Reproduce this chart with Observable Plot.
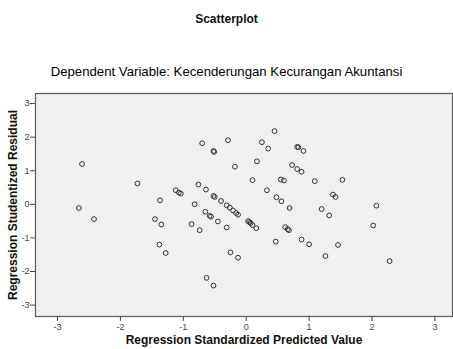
<!DOCTYPE html>
<html>
<head>
<meta charset="utf-8">
<script src="https://cdn.jsdelivr.net/npm/d3@7"></script>
<script src="https://cdn.jsdelivr.net/npm/@observablehq/plot@0.6"></script>
<style>
  body { margin: 0; background: #fff; font-family: Arial, "Liberation Sans", sans-serif; }
  #wrap { position: relative; width: 453px; height: 349px; }
  #title { position: absolute; top: 12px; left: 0; width: 453px; text-align: center; font-weight: bold; font-size: 12px; color: #111; }
  #subtitle { position: absolute; top: 64px; left: 0; width: 453px; text-align: center; font-size: 13.2px; color: #000; }
  #chart { position: absolute; top: 85px; left: 0; }
  #chart svg { font-family: Arial, "Liberation Sans", sans-serif; overflow: visible; }
</style>
</head>
<body>
<div id="wrap">
  <div id="title">Scatterplot</div>
  <div id="subtitle">Dependent Variable: Kecenderungan Kecurangan Akuntansi</div>
  <div id="chart"></div>
</div>
<script>
const titleText = "Scatterplot";
const subtitleText = "Dependent Variable: Kecenderungan Kecurangan Akuntansi";
const xLabel = "Regression Standardized Predicted Value";
const yLabel = "Regression Studentized Residual";
const xTicks = [-3, -2, -1, 0, 1, 2, 3];
const yTicks = [-3, -2, -1, 0, 1, 2, 3];

// Standardized predicted values
const predicted = [
  -2.61, -1.73, -2.66, -2.42,
  -0.70, -0.29, -0.52, -0.51, -0.18, -1.12, -1.07, -1.04, -0.76, -0.64,
  -0.52, -0.50, -0.40, -0.31, -0.26, -0.21, -0.16, -0.13, -1.37, -0.82,
  -0.65, -0.58, -0.56, -0.45, -0.31, -1.45, -1.35, -0.87, -0.74, -1.38,
  -1.28, -0.25, -0.13, -0.63, -0.52,
  0.45, 0.25, 0.35, 0.81, 0.83, 0.91, 0.17, 0.73, 0.81, 0.88,
  0.10, 0.55, 0.60, 1.09, 1.53, 0.33, 0.48, 0.56, 0.69, 1.38,
  1.42, 1.20, 1.32, 0.03, 0.05, 0.07, 0.10, 0.16, 0.62, 0.66,
  0.68, 0.47, 0.88, 1.00, 1.46, 1.26,
  2.07, 2.02, 2.28
];
// Studentized residuals
const residual = [
  1.20, 0.62, -0.11, -0.44,
  1.82, 1.91, 1.59, 1.56, 1.12, 0.42, 0.35, 0.32, 0.59, 0.44,
  0.25, 0.22, 0.10, -0.03, -0.10, -0.18, -0.26, -0.31, 0.12, 0.00,
  -0.22, -0.34, -0.37, -0.51, -0.69, -0.44, -0.60, -0.59, -0.77, -1.20,
  -1.45, -1.43, -1.59, -2.19, -2.42,
  2.18, 1.85, 1.66, 1.71, 1.70, 1.59, 1.28, 1.17, 1.05, 0.97,
  0.72, 0.74, 0.71, 0.69, 0.73, 0.42, 0.21, 0.09, -0.11, 0.29,
  0.22, -0.14, -0.33, -0.50, -0.53, -0.56, -0.62, -0.71, -0.68, -0.74,
  -0.77, -1.11, -1.05, -1.19, -1.21, -1.54,
  -0.04, -0.63, -1.69
];

const data = predicted.map((x, i) => ({x, y: residual[i]}));
document.getElementById("title").textContent = titleText;
document.getElementById("subtitle").textContent = subtitleText;

const chart = Plot.plot({
  width: 453,
  height: 264,
  marginTop: 8,
  marginBottom: 33,
  marginLeft: 35,
  marginRight: 1,
  x: {domain: [-3.35, 3.28], ticks: xTicks},
  y: {domain: [-3.34, 3.30], ticks: yTicks},
  marks: [
    Plot.frame({fill: "#f0f0f0", stroke: "#5a5a5a", strokeWidth: 1.2}),
    Plot.axisX(xTicks, {tickSize: 5, tickPadding: 2, fontSize: 9, color: "#444", label: null, tickFormat: d => String(d)}),
    Plot.axisY(yTicks, {tickSize: 5, tickPadding: 1, fontSize: 9, color: "#444", label: null, tickFormat: d => String(d)}),
    Plot.dot(data, {x: "x", y: "y", r: 2.4, stroke: "#333", strokeWidth: 1, fill: "none"}),
    Plot.text([xLabel], {frameAnchor: "bottom", dy: 27, textAnchor: "middle", fontSize: 12, fontWeight: "bold", fill: "#111"}),
    Plot.text([yLabel], {frameAnchor: "left", dx: -22, textAnchor: "middle", rotate: -90, fontSize: 12, fontWeight: "bold", fill: "#111"})
  ]
});
document.getElementById("chart").appendChild(chart);
</script>
</body>
</html>
